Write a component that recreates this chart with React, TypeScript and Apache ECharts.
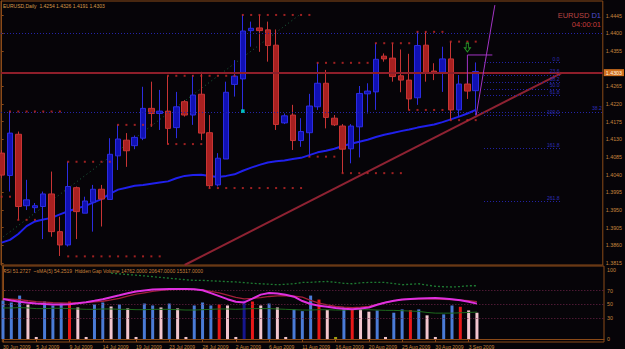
import React, { useEffect, useRef } from 'react';
import * as echarts from 'echarts';

const barDates = ["30 Jun 2009","1 Jul 2009","2 Jul 2009","3 Jul 2009","5 Jul 2009","6 Jul 2009","7 Jul 2009","8 Jul 2009","9 Jul 2009","10 Jul 2009","12 Jul 2009","13 Jul 2009","14 Jul 2009","15 Jul 2009","16 Jul 2009","17 Jul 2009","19 Jul 2009","20 Jul 2009","21 Jul 2009","22 Jul 2009","23 Jul 2009","24 Jul 2009","26 Jul 2009","27 Jul 2009","28 Jul 2009","29 Jul 2009","30 Jul 2009","31 Jul 2009","2 Aug 2009","3 Aug 2009","4 Aug 2009","5 Aug 2009","6 Aug 2009","7 Aug 2009","9 Aug 2009","10 Aug 2009","11 Aug 2009","12 Aug 2009","13 Aug 2009","14 Aug 2009","16 Aug 2009","17 Aug 2009","18 Aug 2009","19 Aug 2009","20 Aug 2009","21 Aug 2009","23 Aug 2009","24 Aug 2009","25 Aug 2009","26 Aug 2009","27 Aug 2009","28 Aug 2009","30 Aug 2009","31 Aug 2009","1 Sep 2009","2 Sep 2009","3 Sep 2009","4 Sep 2009"];

const opens = [1.4095,1.4038,1.4143,1.3961,1.3956,1.3959,1.3991,1.3895,1.3861,1.4007,1.3942,1.3970,1.4003,1.3977,1.4088,1.4128,1.4114,1.4133,1.4209,1.4196,1.4202,1.4160,1.4226,1.4192,1.4245,1.4147,1.4014,1.4080,1.4270,1.4284,1.4407,1.4414,1.4409,1.4370,1.4172,1.4192,1.4127,1.4147,1.4213,1.4273,1.4184,1.4164,1.4106,1.4162,1.4246,1.4251,1.4342,1.4337,1.4292,1.4281,1.4236,1.4370,1.4304,1.4301,1.4335,1.4205,1.4271,1.4254];
const closes = [1.4039,1.4146,1.3959,1.3976,1.3961,1.3991,1.3895,1.3861,1.4010,1.3946,1.3973,1.4003,1.3978,1.4092,1.4131,1.4101,1.4135,1.4209,1.4196,1.4202,1.4158,1.4213,1.4192,1.4243,1.4146,1.4012,1.4082,1.4250,1.4291,1.4406,1.4413,1.4407,1.4369,1.4168,1.4190,1.4127,1.4150,1.4215,1.4273,1.4186,1.4167,1.4105,1.4164,1.4247,1.4253,1.4334,1.4335,1.4290,1.4281,1.4233,1.4369,1.4298,1.4298,1.4335,1.4205,1.4271,1.4253,1.4303];
const lows = [1.4032,1.3997,1.3925,1.3950,1.3943,1.3876,1.3882,1.3833,1.3857,1.3876,1.3942,1.3895,1.3908,1.3977,1.4052,1.4060,1.4105,1.4128,1.4162,1.4154,1.4118,1.4133,1.4188,1.4167,1.4128,1.4005,1.4010,1.4080,1.4239,1.4205,1.4366,1.4353,1.4328,1.4154,1.4169,1.4103,1.4111,1.4086,1.4205,1.4158,1.4164,1.4044,1.4069,1.4084,1.4196,1.4205,1.4328,1.4277,1.4250,1.4205,1.4218,1.4277,1.4281,1.4251,1.4179,1.4188,1.4233,1.4191];
const highs = [1.4103,1.4201,1.4150,1.4027,1.3968,1.3997,1.4048,1.3933,1.4073,1.4010,1.3984,1.4014,1.4014,1.4133,1.4167,1.4146,1.4140,1.4264,1.4277,1.4256,1.4292,1.4251,1.4230,1.4294,1.4302,1.4192,1.4095,1.4277,1.4332,1.4447,1.4430,1.4447,1.4430,1.4410,1.4196,1.4218,1.4184,1.4246,1.4325,1.4307,1.4192,1.4169,1.4169,1.4266,1.4273,1.4375,1.4349,1.4375,1.4359,1.4348,1.4404,1.4404,1.4324,1.4366,1.4379,1.4294,1.4294,1.4326];

const maValues = [1.3867,1.3874,1.3889,1.3909,1.3921,1.3926,1.3930,1.3939,1.3947,1.3954,1.3960,1.3969,1.3978,1.3991,1.4002,1.4007,1.4012,1.4014,1.4017,1.4020,1.4023,1.4031,1.4037,1.4039,1.4040,1.4037,1.4034,1.4037,1.4041,1.4050,1.4058,1.4065,1.4071,1.4074,1.4076,1.4080,1.4083,1.4090,1.4097,1.4101,1.4106,1.4113,1.4119,1.4124,1.4129,1.4136,1.4142,1.4146,1.4151,1.4155,1.4160,1.4164,1.4168,1.4174,1.4181,1.4188,1.4196,1.4205];

const resistance = [null,1.4201,1.4201,1.4201,1.4201,1.4201,1.4201,1.4201,1.4073,1.4073,1.4073,1.4073,1.4073,1.4073,1.4167,1.4167,1.4167,1.4167,1.4167,null,1.4292,1.4292,1.4292,1.4292,1.4292,1.4292,1.4292,1.4292,1.4292,1.4447,1.4447,1.4447,1.4447,1.4447,1.4447,1.4447,1.4447,1.4447,1.4325,1.4325,1.4325,1.4325,1.4325,1.4325,1.4325,1.4375,1.4375,1.4375,1.4375,1.4375,1.4404,1.4404,1.4404,1.4404,1.4379,1.4379,1.4379,1.4379];
const support = [1.3984,1.3984,1.3925,1.3925,1.3925,null,null,null,1.3832,1.3832,1.3832,1.3832,1.3832,1.3832,1.3832,1.3832,1.3832,1.3832,1.3832,1.3832,1.4118,1.4118,1.4118,1.4118,1.4118,1.4006,1.4006,1.4006,1.4006,1.4006,1.4006,1.4006,1.4006,1.4006,1.4006,1.4006,1.4006,1.4086,1.4086,1.4086,1.4086,1.4044,1.4044,1.4044,1.4044,1.4044,1.4044,1.4044,1.4044,1.4205,1.4205,1.4205,1.4205,1.4205,1.4179,1.4179,1.4179,1.4179];

const priceTicks = [1.3815,1.3860,1.3905,1.3950,1.3995,1.4040,1.4085,1.4130,1.4175,1.4220,1.4265,1.4355,1.4400,1.4445];
const hLines = [1.4447, 1.4179];
const hLineLabels = ['', '38.2'];
const fibLevels = [0, 23.6, 38.2, 50, 61.8, 100, 161.8, 261.8];
const fibFromIdx = 58;
const fibToIdx = 67.2;

const trendX = [22.0, 67.3];
const trendY = [1.3810, 1.4299];
const greenDiagX = [0.2, 35.8];
const greenDiagY = [1.3882, 1.4447];
const purpleSteepX = [57.06, 59.3];
const purpleSteepY = [1.4192, 1.4472];
const purpleBracketX = [56, 56, 59];
const purpleBracketY = [1.4273, 1.4345, 1.4345];
const arrowPoint = [56, 1.4364];
const cyanPoint = [29, 1.4202];

const rsiValues = [58.1,55.7,54.0,52.6,51.3,50.6,50.0,50.0,50.3,51.7,53.4,55.4,57.7,60.6,63.3,66.3,68.9,70.3,71.6,72.0,72.4,72.4,72.3,71.9,70.6,66.4,62.1,57.7,54.0,53.0,58.4,64.3,66.6,66.0,64.0,61.3,55.0,50.7,48.3,46.6,45.0,43.9,43.1,44.1,45.7,49.6,53.0,55.4,57.3,58.0,58.7,59.1,59.4,58.7,57.7,56.0,54.1,51.27];
const rsiMa = [58.1,57.6,56.9,55.4,54.1,53.4,52.7,52.4,52.1,52.6,53.0,53.7,54.7,56.7,59.0,62.0,64.9,66.9,68.9,70.3,71.6,72.0,72.3,71.9,71.0,68.9,66.7,63.7,60.4,58.1,59.0,60.0,61.6,62.6,62.7,62.0,60.6,56.1,52.0,49.4,47.1,46.1,45.4,46.1,47.3,50.1,53.0,55.3,57.1,57.7,58.1,58.1,58.1,57.6,57.0,56.4,55.7,54.25];
const greenDotted = [null,null,null,null,null,null,null,null,null,null,null,null,null,95.3,94.3,93.4,92.4,91.4,90.3,89.1,88.0,86.9,85.7,85.0,84.9,84.3,83.7,83.1,82.6,81.7,80.7,80.0,79.3,78.6,79.3,80.0,81.9,82.1,82.9,83.3,82.1,80.7,80.0,81.4,81.9,81.9,81.9,80.3,78.6,79.3,80.0,78.1,76.4,75.7,75.3,76.0,77.1,77.1];
const greenSolid = [45,45,45.5,45,44,44,44.5,44.5,44,43.5,43,43,43.5,43.5,43,43,42.5,42.5,43,43,43,42.5,42,42,42.5,43,43.5,43.5,43,43.5,44,44,44,43.5,43,42.5,42,42,42.5,42.5,42,42,42.5,42.5,42.5,42,41.5,41.5,41,40.5,40,38.5,37.5,37.5,37.5,38,38.5,39];
const volumes = [55.7,52.9,62.9,50,3,54.3,48.6,51.4,54.3,45.7,3,50,52.9,47.1,50,44.3,3,51.4,48.6,45.7,51.4,44.3,3,48.6,52.9,48.6,50,48.6,3,55.7,54.3,48.6,51.4,45.7,3,42.9,40.4,62.9,57.1,41.9,3,46.1,43.9,43.9,39.6,41.4,3,38.1,42.9,41.9,42.9,34.3,3,35.7,48.6,46.7,41.4,38.1];
const volumeKinds = ['b','b','b','p','p','b','b','b','r','p','p','b','b','p','b','p','p','b','b','p','b','p','p','b','b','b','r','p','p','n','r','p','b','p','p','b','b','b','r','p','y','b','r','p','p','b','p','b','b','r','b','p','p','b','b','r','p','p'];
const rsiTicks = [0, 30, 50, 70, 100];
const rsiLevels = [70, 50, 30];

const FONT = '"Liberation Sans", Arial, sans-serif';
const AXIS = '#8A4A18';
const LABEL = '#C8843E';
const kindColor: Record<string, string> = { b: '#4A7BD6', r: '#E81818', p: '#F2C6CE', n: '#16168E', y: '#A0A010' };

const X_MIN = -0.08;
const X_MAX = 72.28;

export default function App() {
  const ref = useRef<HTMLDivElement>(null);
  useEffect(() => {
    const chart = echarts.init(ref.current!, null, { renderer: 'svg' });
    const lastClose = closes[closes.length - 1];
    const fibHigh = highs[highs.length - 1];
    const fibLow = lows[lows.length - 1];
    const dateTickIdx = barDates.map((_, i) => i).filter((i) => i % 4 === 0);

    const fibMarks: any[] = fibLevels.map((l) => {
      const p = fibHigh - (fibHigh - fibLow) * l / 100;
      const lab = { show: true, formatter: l.toFixed(1) };
      return [{ coord: [fibFromIdx, p], label: lab }, { coord: [fibToIdx, p], label: lab }];
    });
    const hMarks: any[] = hLines.map((v, i) => ({
      yAxis: v,
      label: hLineLabels[i] ? { show: true, formatter: hLineLabels[i] } : { show: false },
    }));

    const option: any = {
      backgroundColor: '#060408',
      animation: false,
      grid: [
        { left: 1, top: 1, width: 603, height: 264, show: true, borderColor: AXIS, borderWidth: 1, backgroundColor: 'transparent' },
        { left: 1, top: 266, width: 603, height: 77, show: true, borderColor: AXIS, borderWidth: 1, backgroundColor: 'transparent' },
      ],
      xAxis: [
        { type: 'value', gridIndex: 0, min: X_MIN, max: X_MAX, show: false, splitLine: { show: false } },
        {
          type: 'value', gridIndex: 1, min: X_MIN, max: X_MAX,
          axisLine: { show: true, lineStyle: { color: AXIS } },
          axisTick: { show: true, length: 3, customValues: dateTickIdx, lineStyle: { color: AXIS } },
          axisLabel: {
            customValues: dateTickIdx,
            formatter: (v: number) => barDates[Math.round(v)] ?? '',
            color: LABEL, fontSize: 5, fontFamily: FONT, align: 'left', margin: 2,
          },
          splitLine: { show: false },
        },
      ],
      yAxis: [
        {
          type: 'value', gridIndex: 0, position: 'right', min: 1.3810, max: 1.44825, scale: true,
          axisLine: { show: true, lineStyle: { color: AXIS } },
          axisTick: { show: true, length: 2, customValues: priceTicks, lineStyle: { color: AXIS } },
          axisLabel: { customValues: priceTicks, formatter: (v: number) => v.toFixed(4), color: LABEL, fontSize: 5.3, fontFamily: FONT, margin: 3 },
          splitLine: { show: false },
        },
        {
          type: 'value', gridIndex: 1, position: 'right', min: -4.2857, max: 105.714,
          axisLine: { show: true, lineStyle: { color: AXIS } },
          axisTick: { show: true, length: 2, customValues: rsiTicks, lineStyle: { color: AXIS } },
          axisLabel: { customValues: rsiTicks, formatter: (v: number) => String(Math.round(v)), color: LABEL, fontSize: 5.3, fontFamily: FONT, margin: 3 },
          splitLine: { show: false },
        },
      ],
      series: [
        {
          type: 'line', xAxisIndex: 0, yAxisIndex: 0, symbol: 'none', silent: true,
          data: [[greenDiagX[0], greenDiagY[0]], [greenDiagX[1], greenDiagY[1]]],
          lineStyle: { color: '#1E6440', width: 1, type: [1, 3] }, z: 1,
        },
        {
          type: 'line', xAxisIndex: 0, yAxisIndex: 0, symbol: 'none', silent: true, z: 2,
          data: maValues.map((v, i) => [i, v]),
          lineStyle: { color: '#2020EC', width: 2 },
          markLine: {
            silent: true, symbol: ['none', 'none'],
            lineStyle: { color: '#2424A8', type: [1, 2], width: 1 },
            label: { color: '#2E2EB8', fontSize: 5, fontFamily: FONT, position: 'insideEndTop', distance: 1 },
            data: [...hMarks, ...fibMarks],
          },
        },
        {
          type: 'line', xAxisIndex: 0, yAxisIndex: 0, symbol: 'none', silent: true, z: 3,
          data: [[trendX[0], trendY[0]], [trendX[1], trendY[1]]],
          lineStyle: { color: '#8E2232', width: 2 },
        },
        {
          type: 'candlestick', xAxisIndex: 0, yAxisIndex: 0, barWidth: 6, z: 4,
          data: opens.map((o, i) => [i, o, closes[i], lows[i], highs[i]]),
          itemStyle: { color: '#1010B4', color0: '#A82020', borderColor: '#2C2CE0', borderColor0: '#C83434', borderWidth: 1 },
          markLine: {
            silent: true, symbol: ['none', 'none'],
            lineStyle: { color: '#8E1E2A', width: 2, type: 'solid' },
            label: { show: true, position: 'end', formatter: lastClose.toFixed(4), color: '#FFF4E0', backgroundColor: '#D0701E', fontSize: 5.3, fontFamily: FONT, padding: [1, 2, 1, 2], distance: 1 },
            data: [{ yAxis: lastClose }],
          },
        },
        {
          type: 'scatter', xAxisIndex: 0, yAxisIndex: 0, symbol: 'rect', symbolSize: 2, silent: true, z: 5,
          data: resistance.map((v, i) => [i, v]).filter((d) => d[1] != null),
          itemStyle: { color: '#C42828' },
        },
        {
          type: 'scatter', xAxisIndex: 0, yAxisIndex: 0, symbol: 'rect', symbolSize: 2, silent: true, z: 5,
          data: support.map((v, i) => [i, v]).filter((d) => d[1] != null),
          itemStyle: { color: '#C42828' },
        },
        {
          type: 'line', xAxisIndex: 0, yAxisIndex: 0, symbol: 'none', silent: true, z: 6,
          data: [[purpleSteepX[0], purpleSteepY[0]], [purpleSteepX[1], purpleSteepY[1]]],
          lineStyle: { color: '#A234C4', width: 1 },
        },
        {
          type: 'line', xAxisIndex: 0, yAxisIndex: 0, symbol: 'none', silent: true, z: 6,
          data: purpleBracketX.map((x, i) => [x, purpleBracketY[i]]),
          lineStyle: { color: '#A234C4', width: 1 },
        },
        {
          type: 'scatter', xAxisIndex: 0, yAxisIndex: 0, symbol: 'rect', symbolSize: 3.5, silent: true, z: 7,
          data: [cyanPoint], itemStyle: { color: '#00F0F0' },
        },
        {
          type: 'scatter', xAxisIndex: 0, yAxisIndex: 0, symbol: 'path://M3,0L7,0L7,6L10,6L5,11L0,6L3,6Z', symbolSize: [6, 9], silent: true, z: 7,
          data: [arrowPoint], itemStyle: { color: 'rgba(0,0,0,0)', borderColor: '#2DB82D', borderWidth: 1 },
        },
        {
          type: 'bar', xAxisIndex: 1, yAxisIndex: 1, barWidth: 3, silent: true, z: 2,
          data: volumes.map((v, i) => ({ value: [i, v], itemStyle: { color: kindColor[volumeKinds[i]] } })),
        },
        {
          type: 'line', xAxisIndex: 1, yAxisIndex: 1, symbol: 'none', silent: true, z: 3,
          data: greenSolid.map((v, i) => [i, v]), lineStyle: { color: '#1E6A1E', width: 1 },
        },
        {
          type: 'line', xAxisIndex: 1, yAxisIndex: 1, symbol: 'none', silent: true, z: 3,
          data: greenDotted.map((v, i) => [i, v]), lineStyle: { color: '#1E7A32', width: 1.3, type: [2, 2] },
        },
        {
          type: 'line', xAxisIndex: 1, yAxisIndex: 1, symbol: 'none', silent: true, z: 4,
          data: rsiMa.map((v, i) => [i, v]), lineStyle: { color: '#A0203A', width: 1.3 },
        },
        {
          type: 'line', xAxisIndex: 1, yAxisIndex: 1, symbol: 'none', silent: true, z: 5,
          data: rsiValues.map((v, i) => [i, v]), lineStyle: { color: '#E030E0', width: 2 },
          markLine: {
            silent: true, symbol: ['none', 'none'], label: { show: false },
            lineStyle: { color: '#70244A', type: [1, 2], width: 1 },
            data: rsiLevels.map((v) => ({ yAxis: v })),
          },
        },
      ],
      graphic: [
        {
          type: 'text', left: 3, top: 3, silent: true,
          style: { text: 'EURUSD,Daily  1.4254 1.4326 1.4191 1.4303', fill: '#D89A48', fontSize: 5, fontFamily: FONT },
        },
        {
          type: 'text', left: 3, top: 268, silent: true,
          style: { text: 'RSI 51.2727  ~sMA(5) 54.2519  Hidden Gap Volume 14762.0000 20647.0000 15317.0000', fill: '#C8803A', fontSize: 5, fontFamily: FONT },
        },
        {
          type: 'text', right: 24, top: 11, silent: true, z: 100,
          style: {
            text: '{a|EURUSD} {b|D1}', fontSize: 7.5, fontFamily: FONT,
            rich: { a: { fill: '#B84444', fontSize: 7.5, fontFamily: FONT }, b: { fill: '#5050CC', fontSize: 7.5, fontFamily: FONT } },
          },
        },
        {
          type: 'text', right: 24, top: 20, silent: true, z: 100,
          style: { text: '04:00:01', fill: '#C43C3C', fontSize: 7.5, fontFamily: FONT },
        },
      ],
    };
    chart.setOption(option);
    return () => chart.dispose();
  }, []);
  return <div ref={ref} style={{ position: 'fixed', left: 0, top: 0, width: 625, height: 349 }} />;
}
